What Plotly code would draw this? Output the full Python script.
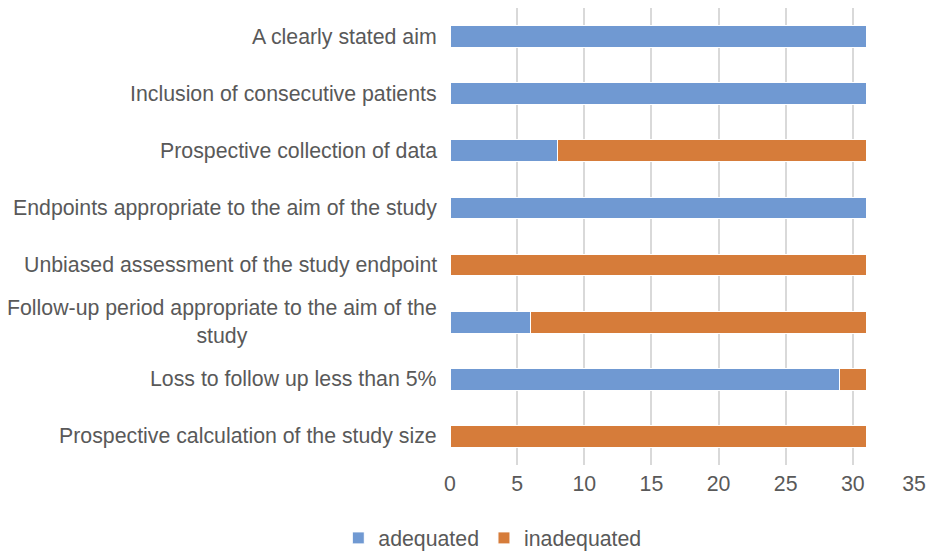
import plotly.graph_objects as go

categories = [
    "A clearly stated aim",
    "Inclusion of consecutive patients",
    "Prospective collection of data",
    "Endpoints appropriate to the aim of the study",
    "Unbiased assessment of the study endpoint",
    "Follow-up period appropriate to the aim of the<br>study",
    "Loss to follow up less than 5%",
    "Prospective calculation of the study size",
]
adequated = [31, 31, 8, 31, 0, 6, 29, 0]
inadequated = [0, 0, 23, 0, 31, 25, 2, 31]
x_ticks = [0, 5, 10, 15, 20, 25, 30, 35]
# last label padded so it is not cut at the right edge of the window
x_tick_labels = ["0", "5", "10", "15", "20", "25", "30", "35\u00a0\u00a0"]

font = dict(family="Liberation Sans, Arial, sans-serif", size=21.3, color="#595959")

fig = go.Figure()
fig.add_trace(go.Bar(y=categories, x=adequated, name="adequated", orientation="h",
                     marker=dict(color="#7099D2", line=dict(color="#ffffff", width=1)),
                     width=0.38))
fig.add_trace(go.Bar(y=categories, x=inadequated, name="inadequated", orientation="h",
                     marker=dict(color="#D67C3A", line=dict(color="#ffffff", width=1)),
                     width=0.38))

# category labels as annotations so the wrapped one is centred like the original
for c in categories:
    fig.add_annotation(x=0, xref="paper", y=c, yref="y", text=c, showarrow=False,
                       xanchor="right", xshift=-11, align="center", font=font)

# the page body adds an 8px offset, margins allow for it
fig.update_layout(
    barmode="stack",
    width=937, height=552,
    margin=dict(l=442, r=25, t=0, b=95, autoexpand=False),
    plot_bgcolor="white", paper_bgcolor="white",
    font=font,
    showlegend=True,
    legend=dict(orientation="h", x=0.09, xanchor="center", y=-0.115, yanchor="top",
                font=font, traceorder="normal", itemwidth=30),
    bargap=0.62,
)
fig.update_xaxes(range=[0, 35], tickvals=x_ticks, ticktext=x_tick_labels, showgrid=True,
                 gridcolor="#d9d9d9", gridwidth=1.5, zeroline=False, showline=False,
                 ticks="", tickfont=font, ticklabelstandoff=4)
fig.update_yaxes(autorange="reversed", showticklabels=False, showgrid=False,
                 zeroline=False, showline=False)

fig.write_html("out.html")
